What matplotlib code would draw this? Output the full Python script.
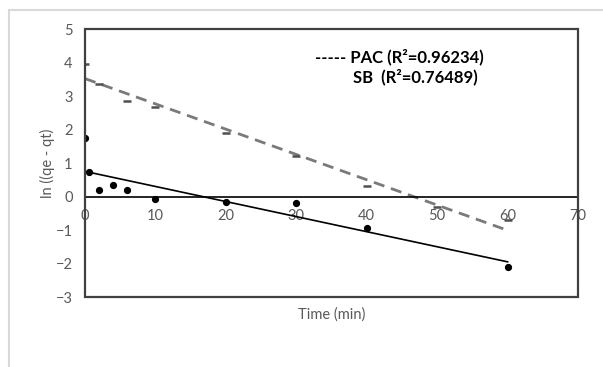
import numpy as np
import matplotlib.pyplot as plt
from matplotlib.patches import Rectangle

# time (min) and ln(qe - qt) for the two sorbents
t_pac = [0, 2, 6, 10, 20, 30, 40, 50, 60]
ln_pac = [3.95, 3.35, 2.85, 2.68, 1.9, 1.2, 0.3, -0.3, -0.7]

t_sb = [0, 0.5, 2, 4, 6, 10, 20, 30, 40, 60]
ln_sb = [1.76, 0.72, 0.2, 0.33, 0.2, -0.07, -0.15, -0.2, -0.95, -2.09]

# linear trendlines (intercept, slope)
pac_fit = (3.52, -0.0755)
sb_fit = (0.75, -0.045)
fit_range = [0, 60]

r2_pac = 0.96234
r2_sb = 0.76489

xticks = [0, 10, 20, 30, 40, 50, 60, 70]
yticks = [-3, -2, -1, 0, 1, 2, 3, 4, 5]


def main():
    plt.rcParams['font.family'] = ['Lato', 'DejaVu Sans']

    fig = plt.figure(figsize=(6.03, 3.67), dpi=100)
    ax = fig.add_axes([0.141, 0.1907, 0.8176, 0.7302])

    # outer light grey chart border
    fig.patches.append(Rectangle((9 / 603, -0.05), 1.1, 1 - 10 / 367 + 0.05,
                                 transform=fig.transFigure, fill=False,
                                 edgecolor='#d9d9d9', linewidth=1.5))

    xs = np.array(fit_range)
    ax.plot(xs, pac_fit[0] + pac_fit[1] * xs, color='#7a7a7a', lw=2.0,
            ls=(0, (4, 2.5)), zorder=2)
    ax.plot(xs, sb_fit[0] + sb_fit[1] * xs, color='black', lw=1.2, zorder=2)

    ax.plot(t_pac, ln_pac, ls='none', marker='_', ms=6, mew=1.8,
            color='#505050', zorder=3)
    ax.plot(t_sb, ln_sb, ls='none', marker='o', ms=4.2,
            color='black', zorder=3)

    ax.set_xlim(0, 70)
    ax.set_ylim(-3, 5)
    ax.set_xticks(xticks)
    ax.set_yticks(yticks)

    for s in ['top', 'right', 'left']:
        ax.spines[s].set_visible(False)
    ax.spines['bottom'].set_position(('data', 0))
    ax.spines['bottom'].set_color('black')
    ax.spines['bottom'].set_linewidth(1.2)
    ax.add_patch(Rectangle((0, 0), 1, 1, transform=ax.transAxes, fill=False,
                           edgecolor='#404040', linewidth=1.6, clip_on=False,
                           zorder=4))

    ax.tick_params(axis='both', length=0, labelsize=10.5, labelcolor='#595959')
    ax.tick_params(axis='x', pad=9)
    ax.tick_params(axis='y', pad=9)

    ax.set_xlabel('Time (min)', fontsize=10.5, color='#595959')
    ax.xaxis.set_label_coords(0.5, -0.04)
    ax.set_ylabel('ln ((qe - qt)', fontsize=10.5, color='#595959')
    ax.yaxis.set_label_coords(-0.06, 0.5)

    ax.text(0.4665, 0.8955, '----- PAC (R\u00b2=%.5f)' % r2_pac,
            transform=ax.transAxes, fontsize=12, fontweight='bold',
            va='center', ha='left')
    ax.text(0.5436, 0.821, 'SB  (R\u00b2=%.5f)' % r2_sb,
            transform=ax.transAxes, fontsize=12, fontweight='bold',
            va='center', ha='left')

    fig.savefig('out.png', dpi=100)


if __name__ == "__main__": main()
